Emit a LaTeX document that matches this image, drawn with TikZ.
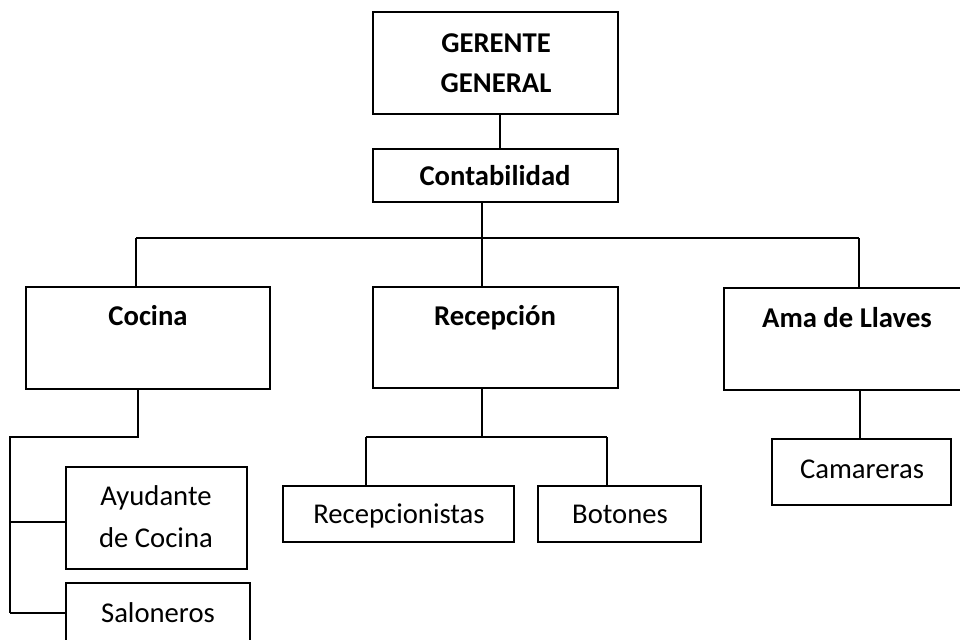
\documentclass[tikz,border=0pt]{standalone}
\usepackage{fontspec}
\setmainfont{Carlito}
\usetikzlibrary{fit}
\begin{document}
\begin{tikzpicture}[x=0.75pt,y=-0.75pt,
  box/.style={draw=black,line width=1.5pt,inner sep=0pt,rectangle},
  conn/.style={draw=black,line width=1.5pt},
  lbl/.style={anchor=base,inner sep=0pt,font=\fontsize{21.5}{30}\selectfont},
  lblb/.style={lbl,font=\fontsize{21.5}{30}\selectfont\bfseries}]
\useasboundingbox (0,0) rectangle (960,639);
% boxes
\node[box,fit={(373,12) (618,114)}] (gerente) {};
\node[box,fit={(373,149) (618,202)}] (conta) {};
\node[box,fit={(26,287) (270,389)}] (cocina) {};
\node[box,fit={(373,287) (618,388)}] (recep) {};
\node[box,fit={(724,288) (970,390)}] (ama) {};
\node[box,fit={(66,467) (247,569)}] (ayud) {};
\node[box,fit={(66,583) (250,700)}] (salon) {};
\node[box,fit={(283,486) (514,542)}] (recepc) {};
\node[box,fit={(538,486) (701,542)}] (boton) {};
\node[box,fit={(772,439) (951,505)}] (camar) {};
% texts
\node[lblb] (tg1) at (496,52) {GERENTE};
\node[lblb] (tg2) at (496,92) {GENERAL};
\node[lblb] (tc) at (495,185) {Contabilidad};
\node[lblb] (tco) at (148,325) {Cocina};
\node[lblb] (tre) at (495,325) {Recepción};
\node[lblb] (tam) at (847,327) {Ama de Llaves};
\node[lbl] (tay1) at (156,505) {Ayudante};
\node[lbl] (tay2) at (156,547) {de Cocina};
\node[lbl] (tsa) at (158,622) {Saloneros};
\node[lbl] (trc) at (399,523) {Recepcionistas};
\node[lbl] (tbo) at (620,523) {Botones};
\node[lbl] (tca) at (862,478) {Camareras};
% junction coordinates
\coordinate (j1) at (482,238);
\coordinate (jl) at (136,238);
\coordinate (jr) at (859,238);
\coordinate (k1) at (138,437);
\coordinate (kl) at (10,437);
\coordinate (kb) at (10,613);
\coordinate (r1) at (482,437);
\coordinate (rl) at (366,437);
\coordinate (rr) at (607,437);
% connectors
\draw[conn] (gerente.south -| 500,0) -- (conta.north -| 500,0);
\draw[conn] (conta.south -| j1) -- (j1);
\draw[conn] (jl) -- (jr);
\draw[conn] (jl) -- (cocina.north -| jl);
\draw[conn] (j1) -- (recep.north -| j1);
\draw[conn] (jr) -- (ama.north -| jr);
\draw[conn] (cocina.south -| k1) -- (k1) -- (kl) -- (kb);
\draw[conn] (kl |- 0,522) -- (ayud.west |- 0,522);
\draw[conn] (kb) -- (salon.west |- kb);
\draw[conn] (recep.south -| r1) -- (r1);
\draw[conn] (rl) -- (rr);
\draw[conn] (rl) -- (recepc.north -| rl);
\draw[conn] (rr) -- (boton.north -| rr);
\draw[conn] (ama.south -| 860,0) -- (camar.north -| 860,0);
\end{tikzpicture}
\end{document}
